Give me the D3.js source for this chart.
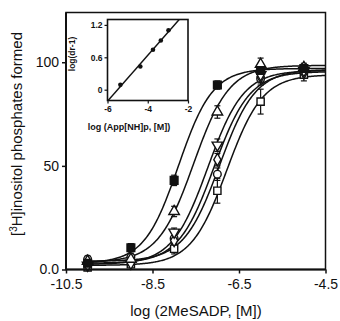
<!DOCTYPE html>
<html>
<head>
<meta charset="utf-8">
<script src="https://cdn.jsdelivr.net/npm/d3@7"></script>
<style>
  body { margin: 0; background: #fff; }
  svg { display: block; }
  text { font-family: "Liberation Sans", Arial, Helvetica, sans-serif; fill: #111; }
</style>
</head>
<body>
<svg id="chart" width="340" height="321"></svg>
<script>
// Concentration-response: log [2MeSADP] vs [3H]inositol phosphates formed
const logConc = [-10, -9, -8, -7, -6, -5];

const seriesNames = ["control", "App1", "App2", "App3", "App4", "App5"];
const seriesSymbols = ["squareFilled", "triangleUp", "triangleDown", "diamond", "circle", "square"];

const respControl = [3, 10.5, 43, 89, 96, 97];
const respApp1    = [4, 5, 28, 76, 99, 97.5];
const respApp2    = [2, 3, 18, 60, 94, 96];
const respApp3    = [3, 4, 14, 53, 93, 95];
const respApp4    = [5, 6, 15, 46, 92, 96];
const respApp5    = [1, 2.5, 10, 38, 81, 94];

const errControl = [1.5, 2, 2.5, 2, 2, 2];
const errApp1    = [1.5, 1.5, 2.5, 3, 3, 2];
const errApp2    = [1.5, 1.5, 2, 3, 3, 2];
const errApp3    = [1.5, 1.5, 2, 3, 3, 2];
const errApp4    = [1.5, 1.5, 3, 3, 3, 2];
const errApp5    = [1.5, 1.5, 2.5, 6, 6, 3];

// Four-parameter logistic fit for each curve
const fitLogEC50 = [-7.90, -7.55, -7.22, -7.08, -6.95, -6.78];
const fitHill    = [1.1, 1.05, 1.05, 1.05, 1.05, 1.05];
const fitBottom  = [3, 3.5, 2.5, 3, 4, 2];
const fitTop     = [97, 98.5, 96, 95.5, 96.5, 94];

const xTicks = [-10.5, -8.5, -6.5, -4.5];
const xTickLabels = ["-10.5", "-8.5", "-6.5", "-4.5"];
const yTicks = [0, 50, 100];
const yTickLabels = ["0.0", "50", "100"];

// Schild plot (inset)
const schildLogConc = [-5.36, -4.37, -3.74, -3.35, -2.97];
const schildLogDr1  = [0.09, 0.43, 0.74, 0.91, 1.10];
const insetXTicks = [-6, -4, -2];
const insetXTickLabels = ["-6", "-4", "-2"];
const insetYTicks = [0, 0.6, 1.2];
const insetYTickLabels = ["0", "0.6", "1.2"];

const responses = [respControl, respApp1, respApp2, respApp3, respApp4, respApp5];
const errors = [errControl, errApp1, errApp2, errApp3, errApp4, errApp5];

const svg = d3.select("#chart");

const x = d3.scaleLinear().domain([-10.5, -4.5]).range([66, 325.5]);
const y = d3.scaleLinear().domain([0, 124]).range([269.5, 12.5]);

// fitted curves
const curveX = d3.range(-10, -4.5 + 1e-9, 0.02);
const line = d3.line().x(d => x(d[0])).y(d => y(d[1]));
seriesNames.forEach((name, i) => {
  const pts = curveX.map(v => [v, fitBottom[i] + (fitTop[i] - fitBottom[i]) / (1 + Math.pow(10, fitHill[i] * (fitLogEC50[i] - v)))]);
  svg.append("path").attr("d", line(pts))
    .attr("fill", "none").attr("stroke", "#111").attr("stroke-width", 1.5);
});

// error bars
seriesNames.forEach((name, i) => {
  const g = svg.append("g").attr("stroke", "#111").attr("stroke-width", 1.2);
  logConc.forEach((c, j) => {
    const v = responses[i][j], e = errors[i][j];
    const cx = x(c);
    g.append("line").attr("x1", cx).attr("x2", cx).attr("y1", y(v - e)).attr("y2", y(v + e));
    g.append("line").attr("x1", cx - 3).attr("x2", cx + 3).attr("y1", y(v - e)).attr("y2", y(v - e));
    g.append("line").attr("x1", cx - 3).attr("x2", cx + 3).attr("y1", y(v + e)).attr("y2", y(v + e));
  });
});

// markers
const symbolDefs = {
  squareFilled: { type: d3.symbolSquare, size: 60, fill: "#111", rot: 0 },
  triangleUp:   { type: d3.symbolTriangle, size: 48, fill: "#fff", rot: 0 },
  triangleDown: { type: d3.symbolTriangle, size: 48, fill: "#fff", rot: 180 },
  diamond:      { type: d3.symbolDiamond, size: 44, fill: "#fff", rot: 0 },
  circle:       { type: d3.symbolCircle, size: 46, fill: "#fff", rot: 0 },
  square:       { type: d3.symbolSquare, size: 52, fill: "#fff", rot: 0 }
};
seriesNames.slice().reverse().forEach((name, k) => {
  const i = seriesNames.length - 1 - k;
  const def = symbolDefs[seriesSymbols[i]];
  const sym = d3.symbol().type(def.type).size(def.size);
  svg.append("g").selectAll("path").data(logConc.map((c, j) => [c, responses[i][j]]))
    .join("path")
    .attr("d", sym)
    .attr("transform", d => `translate(${x(d[0])},${y(d[1])}) rotate(${def.rot})`)
    .attr("fill", def.fill).attr("stroke", "#111").attr("stroke-width", 1.4);
});

// frame
svg.append("rect").attr("x", x(-10.5)).attr("y", y(124))
  .attr("width", x(-4.5) - x(-10.5)).attr("height", y(0) - y(124))
  .attr("fill", "none").attr("stroke", "#111").attr("stroke-width", 1.5);
svg.append("line").attr("x1", x(-10.5)).attr("x2", x(-10.5)).attr("y1", y(124)).attr("y2", y(0))
  .attr("stroke", "#111").attr("stroke-width", 2);
svg.append("line").attr("x1", x(-10.5)).attr("x2", x(-4.5)).attr("y1", y(0)).attr("y2", y(0))
  .attr("stroke", "#111").attr("stroke-width", 2);

// main axes
const xAxis = d3.axisBottom(x).tickValues(xTicks)
  .tickFormat((d, i) => xTickLabels[i]).tickSize(4).tickPadding(6);
const gx = svg.append("g").attr("transform", `translate(0,${y(0)})`).call(xAxis);
gx.select(".domain").remove();
gx.selectAll("line").attr("stroke", "#111").attr("stroke-width", 1.5);
gx.selectAll("text").attr("font-size", 14).attr("fill", "#111");

const yAxis = d3.axisLeft(y).tickValues(yTicks)
  .tickFormat((d, i) => yTickLabels[i]).tickSize(4).tickPadding(3);
const gy = svg.append("g").attr("transform", `translate(${x(-10.5)},0)`).call(yAxis);
gy.select(".domain").remove();
gy.selectAll("line").attr("stroke", "#111").attr("stroke-width", 1.5);
gy.selectAll("text").attr("font-size", 14).attr("fill", "#111");

svg.append("text").attr("x", 196).attr("y", 316).attr("text-anchor", "middle")
  .attr("font-size", 15).text("log (2MeSADP, [M])");

const yl = svg.append("text").attr("transform", "translate(22,134) rotate(-90)")
  .attr("text-anchor", "middle").attr("font-size", 15);
yl.append("tspan").text("[");
yl.append("tspan").attr("font-size", 10).attr("dy", -5).text("3");
yl.append("tspan").attr("dy", 5).text("H]inositol phosphates formed");

// inset: Schild plot
const xi = d3.scaleLinear().domain([-6, -2]).range([107.5, 188]);
const yi = d3.scaleLinear().domain([-0.2, 1.3]).range([100.5, 19.5]);

svg.append("rect").attr("x", xi(-6)).attr("y", yi(1.3))
  .attr("width", xi(-2) - xi(-6)).attr("height", yi(-0.2) - yi(1.3))
  .attr("fill", "#fff").attr("stroke", "#111").attr("stroke-width", 1.6);

// least-squares line through the Schild points, clipped to the inset
const mx = d3.mean(schildLogConc), my = d3.mean(schildLogDr1);
const slope = d3.sum(schildLogConc, (v, i) => (v - mx) * (schildLogDr1[i] - my)) /
              d3.sum(schildLogConc, v => (v - mx) * (v - mx));
const intercept = my - slope * mx;
let xa = -6, xb = (1.3 - intercept) / slope;
if (intercept + slope * xa < -0.2) xa = (-0.2 - intercept) / slope;
svg.append("line").attr("x1", xi(xa)).attr("y1", yi(intercept + slope * xa))
  .attr("x2", xi(xb)).attr("y2", yi(intercept + slope * xb))
  .attr("stroke", "#111").attr("stroke-width", 1.4);

svg.append("g").selectAll("circle").data(schildLogConc.map((c, i) => [c, schildLogDr1[i]]))
  .join("circle").attr("cx", d => xi(d[0])).attr("cy", d => yi(d[1])).attr("r", 2.3)
  .attr("fill", "#111");

const xiAxis = d3.axisBottom(xi).tickValues(insetXTicks)
  .tickFormat((d, i) => insetXTickLabels[i]).tickSize(3).tickPadding(2);
const gxi = svg.append("g").attr("transform", `translate(0,${yi(-0.2)})`).call(xiAxis);
gxi.select(".domain").remove();
gxi.selectAll("line").attr("stroke", "#111").attr("stroke-width", 1.2);
gxi.selectAll("text").attr("font-size", 8.5).attr("font-weight", "bold").attr("fill", "#111");

const yiAxis = d3.axisLeft(yi).tickValues(insetYTicks)
  .tickFormat((d, i) => insetYTickLabels[i]).tickSize(3).tickPadding(2);
const gyi = svg.append("g").attr("transform", `translate(${xi(-6)},0)`).call(yiAxis);
gyi.select(".domain").remove();
gyi.selectAll("line").attr("stroke", "#111").attr("stroke-width", 1.2);
gyi.selectAll("text").attr("font-size", 8.5).attr("font-weight", "bold").attr("fill", "#111");

svg.append("text").attr("x", 129).attr("y", 130).attr("text-anchor", "middle")
  .attr("font-size", 9).attr("font-weight", "bold").text("log (App[NH]p, [M])");
svg.append("text").attr("transform", "translate(75,54) rotate(-90)")
  .attr("text-anchor", "middle").attr("font-size", 8.5).attr("font-weight", "bold").text("log(dr-1)");
</script>
</body>
</html>
